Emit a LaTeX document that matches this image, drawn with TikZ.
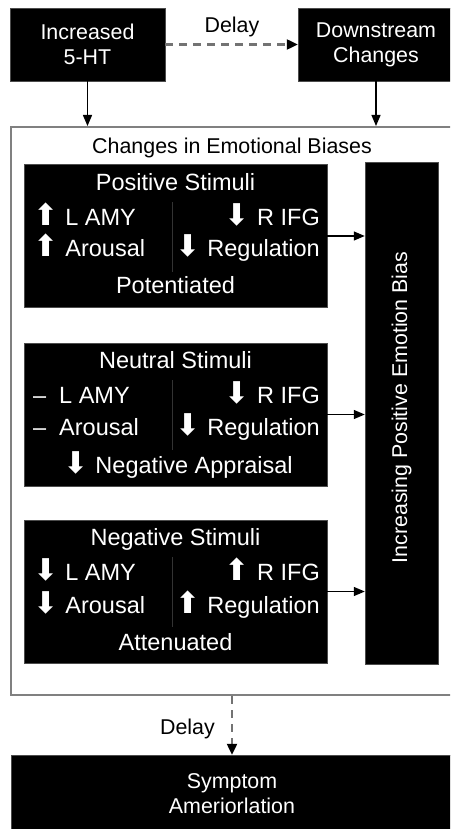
\documentclass[tikz,border=0pt]{standalone}
\usepackage{fontspec}
\setmainfont{Liberation Sans}
\newfontfamily\symbfont{DejaVu Sans}
\usetikzlibrary{arrows.meta,positioning}

\newcommand{\upmark}{{\symbfont\fontsize{30}{30}\selectfont ⬆}\hspace{0.3em}}
\newcommand{\downmark}{{\symbfont\fontsize{30}{30}\selectfont ⬇}\hspace{0.3em}}
\newcommand{\samemark}{–\hspace{0.55em}}

\begin{document}
\begin{tikzpicture}[x=1pt, y=-1pt,
	every node/.style={font=\fontsize{21.4}{25}\selectfont, inner sep=0pt},
	blackbox/.style={rectangle, draw=black!70, fill=black, text=white, align=center},
	stimbox/.style={blackbox, minimum width=303pt, minimum height=143pt},
	stimtext/.style={text=white, font=\fontsize{23.5}{27}\selectfont},
	divider/.style={draw=black!80!white, line width=0.8pt},
	arrow/.style={-{Triangle[length=11pt, width=9pt]}, line width=1.3pt},
	delayarrow/.style={-{Triangle[length=11pt, width=10pt, black]}, line width=2.2pt, draw=black!55, dash pattern=on 8pt off 6pt}
	]

\useasboundingbox (0,0) rectangle (450,829);
\clip (0,0) rectangle (450,829);

% Serotonin and downstream
\node [blackbox, minimum width=155pt, minimum height=73pt] (serotonin) at (87.5,44.5) {Increased\\5-HT};
\node [blackbox, minimum width=156pt, minimum height=73pt] (downstream) at (376,44.5) {Downstream\\Changes};
\draw [delayarrow] (serotonin) -- (downstream);
\node [anchor=base] (delay top) at (232,32.7) {Delay};

% Container
\node [rectangle, draw=black!50, line width=2pt, minimum width=442pt, minimum height=568pt] (biases) at (232,411) {};
\node [anchor=base] (biases title) at (232,153.7) {Changes in Emotional Biases};

\draw [arrow] (serotonin.south) -- (serotonin.south |- biases.north);
\draw [arrow] (downstream.south) -- (downstream.south |- biases.north);

% Bias bar
\node [blackbox, minimum width=73pt, minimum height=502pt] (bias) at (401.5,413) {};
\node [text=white, rotate=90] (bias text) at (401.5,407.5) {Increasing Positive Emotion Bias};

% Positive stimuli
\node [stimbox] (positive) at (175.5,236) {};
\node [stimtext, anchor=base] (positive title) at (175.5,190.5) {Positive Stimuli};
\node [stimtext, anchor=base west] (positive amy) at (33,225.5) {\upmark L AMY};
\node [stimtext, anchor=base west] (positive arousal) at (33,256.5) {\upmark Arousal};
\node [stimtext, anchor=base east] (positive ifg) at (320,225.5) {\downmark R IFG};
\node [stimtext, anchor=base east] (positive regulation) at (320,256.5) {\downmark Regulation};
\node [stimtext, anchor=base] (positive result) at (175.5,293.5) {Potentiated};
\draw [divider] (172,202) -- (172,272);

% Neutral stimuli
\node [stimbox] (neutral) at (175.5,414.5) {};
\node [stimtext, anchor=base] (neutral title) at (175.5,368.5) {Neutral Stimuli};
\node [stimtext, anchor=base west] (neutral amy) at (33,403.5) {\samemark L AMY};
\node [stimtext, anchor=base west] (neutral arousal) at (33,435.5) {\samemark Arousal};
\node [stimtext, anchor=base east] (neutral ifg) at (320,403.5) {\downmark R IFG};
\node [stimtext, anchor=base east] (neutral regulation) at (320,435.5) {\downmark Regulation};
\node [stimtext, anchor=base] (neutral result) at (178,473.5) {\downmark Negative Appraisal};
\draw [divider] (172,380) -- (172,450);

% Negative stimuli
\node [stimbox] (negative) at (175.5,591.5) {};
\node [stimtext, anchor=base] (negative title) at (175.5,545.5) {Negative Stimuli};
\node [stimtext, anchor=base west] (negative amy) at (33,580.5) {\downmark L AMY};
\node [stimtext, anchor=base west] (negative arousal) at (33,613.5) {\downmark Arousal};
\node [stimtext, anchor=base east] (negative ifg) at (320,580.5) {\upmark R IFG};
\node [stimtext, anchor=base east] (negative regulation) at (320,613.5) {\upmark Regulation};
\node [stimtext, anchor=base] (negative result) at (175.5,650.5) {Attenuated};
\draw [divider] (172,557) -- (172,627);

\draw [arrow] (positive.east) -- (positive.east -| bias.west);
\draw [arrow] (neutral.east) -- (neutral.east -| bias.west);
\draw [arrow] (negative.east) -- (negative.east -| bias.west);

% Symptoms
\node [blackbox, minimum width=442pt, minimum height=78pt] (symptom) at (232,794) {Symptom\\Ameriorlation};
\draw [delayarrow] (biases.south) -- (symptom.north);
\node [anchor=base east] (delay bottom) at (215,734.7) {Delay};

\end{tikzpicture}
\end{document}
